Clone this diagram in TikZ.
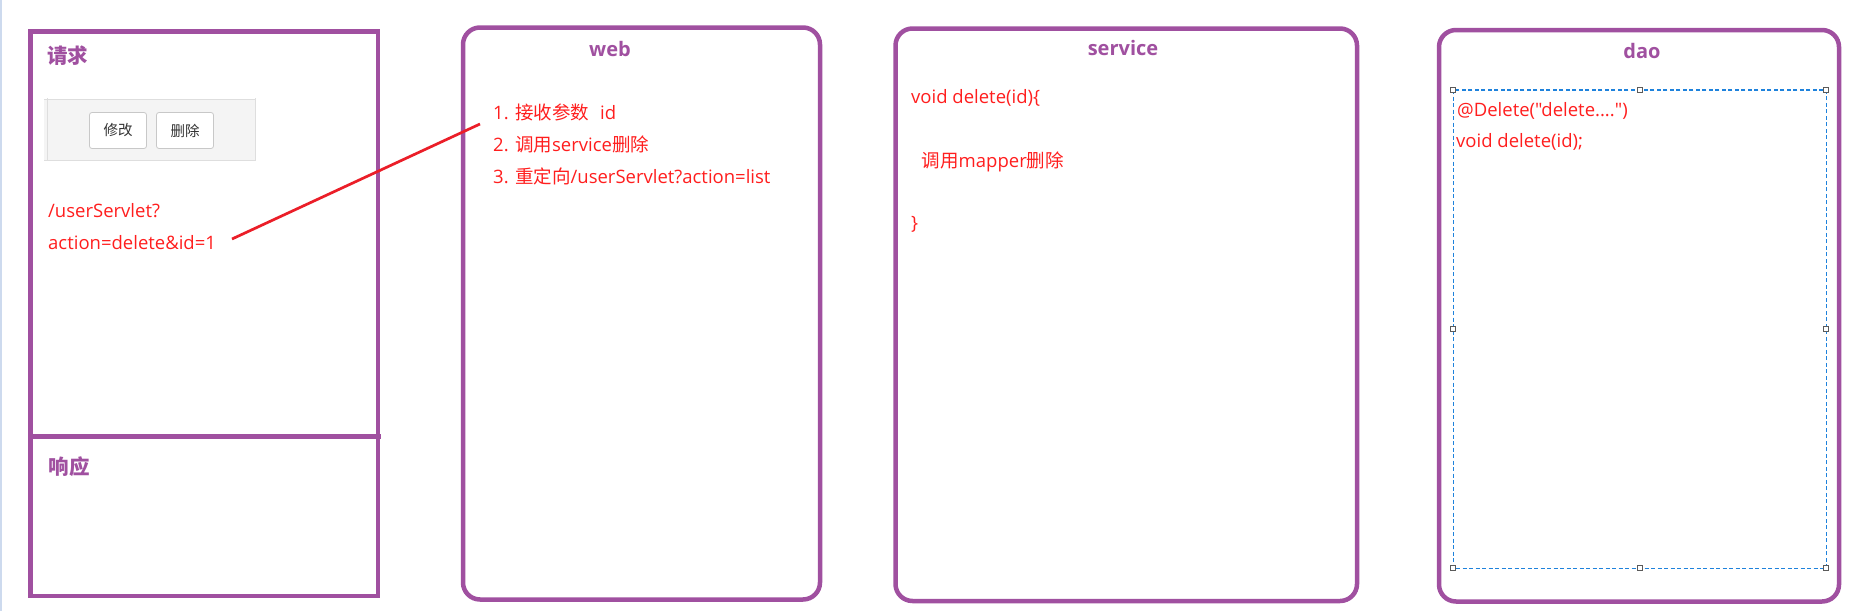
\documentclass[tikz,border=0pt]{standalone}
\usepackage{fontspec}
\setmainfont{Open Sans}[Ligatures=TeXOff]
\newfontfamily\cjk{Noto Sans CJK SC}
\newcommand\zhtxt[1]{{\cjk #1}}
\definecolor{boxpurple}{RGB}{160,80,160}
\definecolor{txtred}{RGB}{255,30,30}
\definecolor{linered}{RGB}{235,30,40}
\definecolor{selblue}{RGB}{30,130,220}
\definecolor{handlegray}{RGB}{90,90,90}
\definecolor{bargray}{RGB}{244,244,244}
\definecolor{barline}{RGB}{222,222,222}
\definecolor{btnline}{RGB}{200,200,200}
\definecolor{edgeblue}{RGB}{205,218,238}
\begin{document}
\begin{tikzpicture}[x=1pt,y=-1pt,
  panel/.style={draw=boxpurple,line width=4.5pt},
  rpanel/.style={panel,rounded corners=17pt},
  ttl/.style={text=boxpurple,font=\fontsize{20}{24}\selectfont\bfseries,inner sep=0pt},
  zhttl/.style={text=boxpurple,font=\fontsize{20.5}{24}\selectfont\cjk\bfseries,inner sep=0pt},
  codetxt/.style={text=txtred,font=\fontsize{18.5}{22}\selectfont,inner sep=0pt,anchor=base west},
  btn/.style={draw=btnline,fill=white,rounded corners=2.5pt,line width=0.8pt,minimum width=57pt,minimum height=36pt,inner sep=0pt,font=\fontsize{14.5}{16}\selectfont\cjk,text=black!80},
  hdl/.style={draw=handlegray,fill=white,line width=0.9pt,minimum size=5pt,inner sep=0pt}
]
\useasboundingbox (0,0) rectangle (1869,611);
\fill[white] (0,0) rectangle (1869,611);
\draw[edgeblue,line width=1.6pt] (0.8,0) -- (0.8,611);

% request / response panel
\draw[panel] (30.5,31.5) rectangle (378,596);
\draw[panel] (30.5,436.5) -- (381,436.5);
\node[zhttl] (qq) at (67.5,56) {请求};
\node[zhttl] (xy) at (69,467) {响应};

% button bar
\fill[bargray] (44,99.5) rectangle (256,160);
\draw[barline,line width=1pt] (44,99.5) -- (256,99.5) (44,160) -- (256,160) (47,98) -- (47,161) (255,98) -- (255,161);
\node[btn] (bedit) at (118,130.5) {修改};
\node[btn] (bdel) at (185,130.5) {删除};

\node[codetxt] (u1) at (48,217) {/userServlet?};
\node[codetxt] (u2) at (48,249) {action=delete\&id=1};

% web
\draw[rpanel] (463,27.5) rectangle (820,599.5);
\node[ttl,anchor=base] (tweb) at (610,56) {web};
\node[codetxt] (w1) at (493,119) {1. \zhtxt{接收参数}\hspace{0.6em}id};
\node[codetxt] (w2) at (493,151.5) {2. \zhtxt{调用}service\zhtxt{删除}};
\node[codetxt] (w3) at (493,183) {3. \zhtxt{重定向}/userServlet?action=list};

% service
\draw[rpanel] (895.5,28.5) rectangle (1357,601);
\node[ttl,anchor=base] (tsvc) at (1123,55) {service};
\node[codetxt] (s1) at (911,103) {void delete(id)\{};
\node[codetxt] (s2) at (921.5,167) {\zhtxt{调用}mapper\zhtxt{删除}};
\node[codetxt] (s3) at (911,229) {\}};

% dao
\draw[rpanel] (1439,30) rectangle (1839,601.5);
\node[ttl,anchor=base] (tdao) at (1642,58) {dao};
\draw[selblue,line width=1.2pt,dash pattern=on 4pt off 2.5pt] (1453.3,90) rectangle (1826.3,568.3);
\foreach \hx/\hy in {1453.3/90,1639.8/90,1826.3/90,1453.3/329.2,1826.3/329.2,1453.3/568.3,1639.8/568.3,1826.3/568.3}
  \node[hdl] at (\hx,\hy) {};
\node[codetxt] (d1) at (1457,116) {@Delete("delete....")};
\node[codetxt] (d2) at (1456,147.5) {void delete(id);};

% connector
\coordinate (ls) at (232,239);
\coordinate (le) at (480,124);
\draw[linered,line width=2.7pt] (ls) -- (le);
\end{tikzpicture}
\end{document}
